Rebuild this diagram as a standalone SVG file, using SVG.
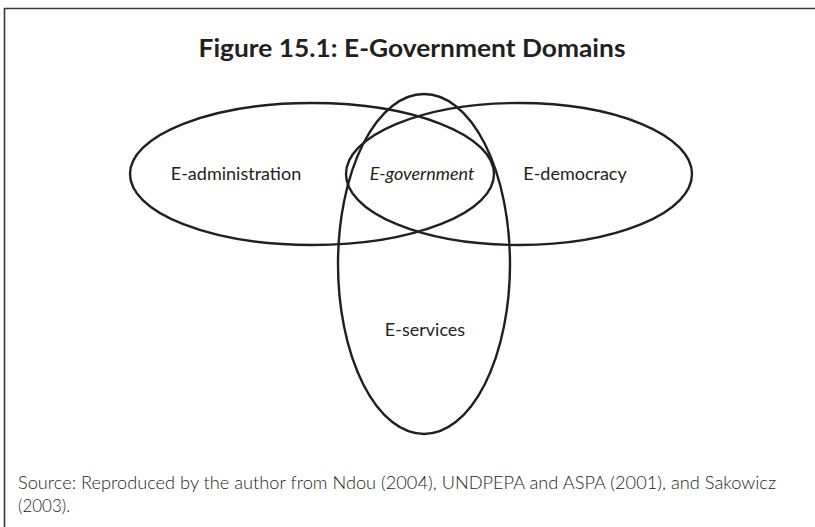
<svg xmlns="http://www.w3.org/2000/svg" width="815" height="527" viewBox="0 0 815 527">
<style>
.frame{fill:none;stroke:#3a3a3a;stroke-width:1.6}
.ell{fill:none;stroke:#231f20;stroke-width:2.4}
.lbl{font-family:Lato,"Noto Sans",sans-serif;font-size:18px;fill:#231f20;text-anchor:middle}
.title{font-family:Lato,"Noto Sans",sans-serif;font-size:25px;font-weight:bold;fill:#231f20;text-anchor:middle}
.src{font-family:Lato,"Noto Sans",sans-serif;font-size:17px;font-weight:300;fill:#231f20}
</style>
<rect width="815" height="527" fill="#ffffff"/>
<path class="frame" d="M4.5,527 V8.5 H815"/>
<text class="title" x="412" y="57" textLength="427" lengthAdjust="spacingAndGlyphs">Figure 15.1: E-Government Domains</text>
<g id="connectors"></g>
<g id="e-administration">
<ellipse class="ell" cx="312" cy="174" rx="182" ry="71"/>
<text class="lbl" x="236" y="180">E-administration</text>
</g>
<g id="e-democracy">
<ellipse class="ell" cx="519" cy="174" rx="173" ry="71"/>
<text class="lbl" x="575" y="180">E-democracy</text>
</g>
<g id="e-services">
<ellipse class="ell" cx="424" cy="264" rx="86" ry="170"/>
<text class="lbl" x="425" y="336">E-services</text>
</g>
<g id="e-government">
<text class="lbl" x="422" y="180" font-style="italic">E-government</text>
</g>
<text class="src" x="18" y="489" textLength="758" lengthAdjust="spacingAndGlyphs">Source: Reproduced by the author from Ndou (2004), UNDPEPA and ASPA (2001), and Sakowicz</text>
<text class="src" x="18" y="512">(2003).</text>
</svg>
